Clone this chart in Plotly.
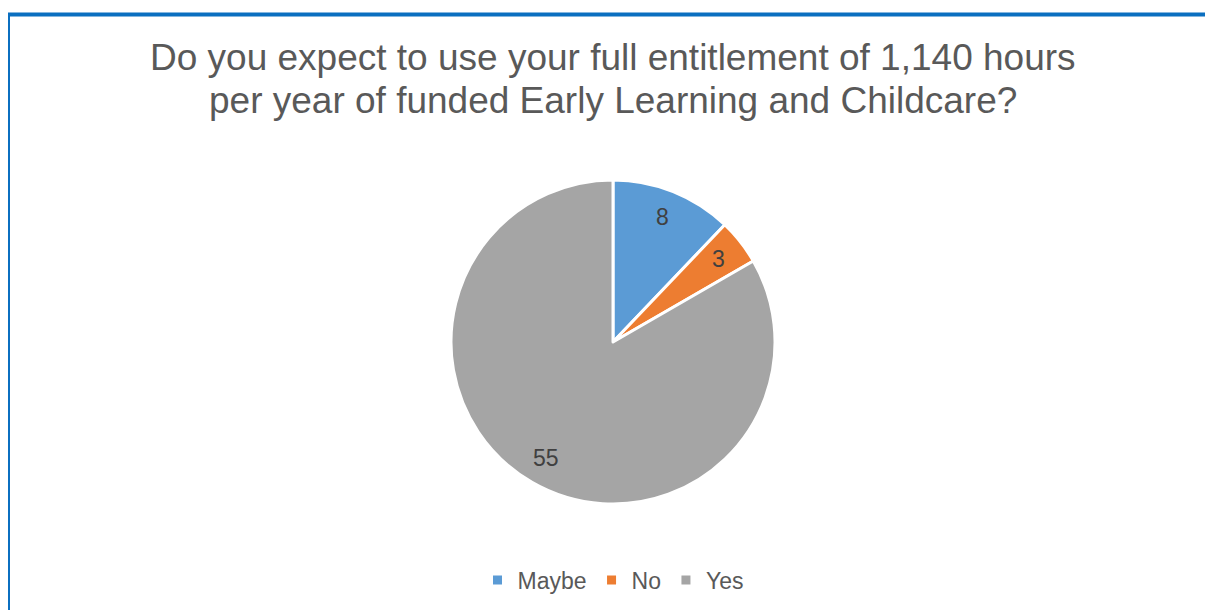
import math
import plotly.graph_objects as go

categories = ["Maybe", "No", "Yes"]
counts = [8, 3, 55]
slice_colors = ["#5B9BD5", "#ED7D31", "#A5A5A5"]
title_lines = [
    "Do you expect to use your full entitlement of 1,140 hours",
    "per year of funded Early Learning and Childcare?",
]

W, H = 1213, 610
OFF = 8  # the page body adds an 8px margin


def px_x(x):
    return (x - OFF) / W


def px_y(y):
    return 1 - (y - OFF) / H


cx, cy, r = 613, 342, 162
fig = go.Figure(go.Pie(
    labels=categories,
    values=counts,
    sort=False,
    direction="clockwise",
    rotation=0,
    marker=dict(colors=slice_colors, line=dict(color="white", width=3)),
    textinfo="none",
    domain=dict(x=[px_x(cx - r), px_x(cx + r)], y=[px_y(cy + r), px_y(cy - r)]),
    hoverinfo="label+value",
))

# data labels placed like Excel's, along each slice's middle angle
total = sum(counts)
start = 0
for c in counts:
    mid = (start + c / 2) / total * 2 * math.pi
    start += c
    lx = cx + 0.84 * 160 * math.sin(mid)
    ly = cy - 0.84 * 160 * math.cos(mid)
    fig.add_annotation(x=px_x(lx), y=px_y(ly), xref="paper", yref="paper",
                       text=str(c), showarrow=False, xanchor="center", yanchor="middle",
                       font=dict(family="Liberation Sans, Arial", size=23, color="#404040"))

for i, line in enumerate(title_lines):
    fig.add_annotation(x=px_x(613), y=px_y(57 + 43 * i), xref="paper", yref="paper",
                       text=line, showarrow=False, xanchor="center", yanchor="middle",
                       font=dict(family="Liberation Sans, Arial", size=37, color="#595959"))

# blue frame on the left and top edges
fig.add_shape(type="line", xref="paper", yref="paper",
              x0=px_x(8), x1=px_x(8), y0=-0.05, y1=px_y(14.5),
              line=dict(color="#0B6FC0", width=4))
fig.add_shape(type="line", xref="paper", yref="paper",
              x0=px_x(6), x1=1.05, y0=px_y(14.5), y1=px_y(14.5),
              line=dict(color="#0B6FC0", width=4))

fig.update_layout(
    width=W, height=H,
    margin=dict(l=0, r=0, t=0, b=0),
    paper_bgcolor="white",
    plot_bgcolor="white",
    legend=dict(
        orientation="h", x=px_x(613), xanchor="center", y=px_y(580), yanchor="middle",
        font=dict(family="Liberation Sans, Arial", size=23, color="#595959"),
        itemwidth=30, tracegroupgap=0,
    ),
)

fig.write_html("out.html")
